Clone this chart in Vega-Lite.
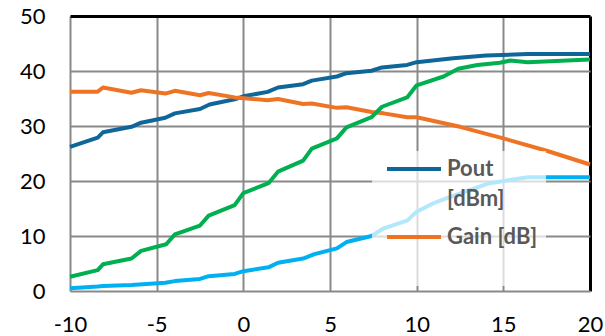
{
  "$schema": "https://vega.github.io/schema/vega-lite/v6.json",
  "width": 520,
  "height": 275,
  "autosize": {"type": "none"},
  "padding": {"left": 70, "top": 16, "right": 15, "bottom": 45},
  "background": "white",
  "config": {
    "view": {"stroke": null},
    "font": "Lato"
  },
  "data": {
    "values": [
      {"x": -10, "y": 26.2, "s": "Pout [dBm]"},
      {"x": -8.4, "y": 27.9, "s": "Pout [dBm]"},
      {"x": -8.1, "y": 28.85, "s": "Pout [dBm]"},
      {"x": -6.45, "y": 29.85, "s": "Pout [dBm]"},
      {"x": -5.9, "y": 30.6, "s": "Pout [dBm]"},
      {"x": -4.5, "y": 31.5, "s": "Pout [dBm]"},
      {"x": -3.95, "y": 32.3, "s": "Pout [dBm]"},
      {"x": -2.5, "y": 33.1, "s": "Pout [dBm]"},
      {"x": -1.95, "y": 33.9, "s": "Pout [dBm]"},
      {"x": -0.5, "y": 34.85, "s": "Pout [dBm]"},
      {"x": 0, "y": 35.4, "s": "Pout [dBm]"},
      {"x": 1.4, "y": 36.2, "s": "Pout [dBm]"},
      {"x": 2.0, "y": 37.0, "s": "Pout [dBm]"},
      {"x": 3.45, "y": 37.6, "s": "Pout [dBm]"},
      {"x": 3.95, "y": 38.25, "s": "Pout [dBm]"},
      {"x": 5.4, "y": 39.0, "s": "Pout [dBm]"},
      {"x": 5.95, "y": 39.6, "s": "Pout [dBm]"},
      {"x": 7.4, "y": 40.05, "s": "Pout [dBm]"},
      {"x": 8.0, "y": 40.65, "s": "Pout [dBm]"},
      {"x": 9.45, "y": 41.1, "s": "Pout [dBm]"},
      {"x": 10.0, "y": 41.6, "s": "Pout [dBm]"},
      {"x": 12.1, "y": 42.3, "s": "Pout [dBm]"},
      {"x": 14.0, "y": 42.8, "s": "Pout [dBm]"},
      {"x": 16.4, "y": 43.1, "s": "Pout [dBm]"},
      {"x": 20, "y": 43.1, "s": "Pout [dBm]"},

      {"x": -10, "y": 36.25, "s": "Gain [dB]"},
      {"x": -8.4, "y": 36.25, "s": "Gain [dB]"},
      {"x": -8.1, "y": 37.0, "s": "Gain [dB]"},
      {"x": -6.45, "y": 36.05, "s": "Gain [dB]"},
      {"x": -5.9, "y": 36.5, "s": "Gain [dB]"},
      {"x": -4.5, "y": 35.9, "s": "Gain [dB]"},
      {"x": -3.95, "y": 36.4, "s": "Gain [dB]"},
      {"x": -2.5, "y": 35.6, "s": "Gain [dB]"},
      {"x": -2.0, "y": 36.0, "s": "Gain [dB]"},
      {"x": -0.5, "y": 35.2, "s": "Gain [dB]"},
      {"x": 1.4, "y": 34.7, "s": "Gain [dB]"},
      {"x": 2.0, "y": 34.9, "s": "Gain [dB]"},
      {"x": 3.45, "y": 34.0, "s": "Gain [dB]"},
      {"x": 3.95, "y": 34.1, "s": "Gain [dB]"},
      {"x": 5.4, "y": 33.3, "s": "Gain [dB]"},
      {"x": 5.95, "y": 33.4, "s": "Gain [dB]"},
      {"x": 7.4, "y": 32.55, "s": "Gain [dB]"},
      {"x": 8.1, "y": 32.3, "s": "Gain [dB]"},
      {"x": 9.45, "y": 31.6, "s": "Gain [dB]"},
      {"x": 10.0, "y": 31.6, "s": "Gain [dB]"},
      {"x": 12.5, "y": 29.85, "s": "Gain [dB]"},
      {"x": 15.0, "y": 27.75, "s": "Gain [dB]"},
      {"x": 17.5, "y": 25.5, "s": "Gain [dB]"},
      {"x": 20, "y": 23.0, "s": "Gain [dB]"},

      {"x": -10, "y": 2.6, "s": "Series 3"},
      {"x": -8.4, "y": 3.8, "s": "Series 3"},
      {"x": -8.1, "y": 4.85, "s": "Series 3"},
      {"x": -6.45, "y": 5.9, "s": "Series 3"},
      {"x": -5.9, "y": 7.3, "s": "Series 3"},
      {"x": -4.45, "y": 8.5, "s": "Series 3"},
      {"x": -3.95, "y": 10.3, "s": "Series 3"},
      {"x": -2.5, "y": 11.9, "s": "Series 3"},
      {"x": -2.0, "y": 13.7, "s": "Series 3"},
      {"x": -0.5, "y": 15.6, "s": "Series 3"},
      {"x": 0, "y": 17.8, "s": "Series 3"},
      {"x": 1.45, "y": 19.6, "s": "Series 3"},
      {"x": 2.0, "y": 21.7, "s": "Series 3"},
      {"x": 3.45, "y": 23.7, "s": "Series 3"},
      {"x": 3.95, "y": 25.9, "s": "Series 3"},
      {"x": 5.4, "y": 27.75, "s": "Series 3"},
      {"x": 5.95, "y": 29.75, "s": "Series 3"},
      {"x": 7.4, "y": 31.6, "s": "Series 3"},
      {"x": 8.0, "y": 33.5, "s": "Series 3"},
      {"x": 9.45, "y": 35.2, "s": "Series 3"},
      {"x": 10.0, "y": 37.4, "s": "Series 3"},
      {"x": 11.55, "y": 39.0, "s": "Series 3"},
      {"x": 12.4, "y": 40.4, "s": "Series 3"},
      {"x": 13.5, "y": 41.1, "s": "Series 3"},
      {"x": 14.8, "y": 41.5, "s": "Series 3"},
      {"x": 15.4, "y": 41.9, "s": "Series 3"},
      {"x": 16.4, "y": 41.6, "s": "Series 3"},
      {"x": 20, "y": 42.1, "s": "Series 3"},

      {"x": -10, "y": 0.5, "s": "Series 4"},
      {"x": -8.4, "y": 0.8, "s": "Series 4"},
      {"x": -8.1, "y": 0.9, "s": "Series 4"},
      {"x": -6.45, "y": 1.1, "s": "Series 4"},
      {"x": -4.5, "y": 1.5, "s": "Series 4"},
      {"x": -3.95, "y": 1.8, "s": "Series 4"},
      {"x": -2.5, "y": 2.2, "s": "Series 4"},
      {"x": -2.0, "y": 2.7, "s": "Series 4"},
      {"x": -0.5, "y": 3.1, "s": "Series 4"},
      {"x": 0, "y": 3.6, "s": "Series 4"},
      {"x": 1.45, "y": 4.3, "s": "Series 4"},
      {"x": 2.0, "y": 5.15, "s": "Series 4"},
      {"x": 3.45, "y": 5.9, "s": "Series 4"},
      {"x": 4.1, "y": 6.7, "s": "Series 4"},
      {"x": 5.4, "y": 7.75, "s": "Series 4"},
      {"x": 5.95, "y": 8.9, "s": "Series 4"},
      {"x": 7.4, "y": 10.0, "s": "Series 4"},
      {"x": 8.1, "y": 11.4, "s": "Series 4"},
      {"x": 9.45, "y": 12.8, "s": "Series 4"},
      {"x": 10.0, "y": 14.4, "s": "Series 4"},
      {"x": 11.0, "y": 16.0, "s": "Series 4"},
      {"x": 11.7, "y": 16.85, "s": "Series 4"},
      {"x": 14.2, "y": 19.6, "s": "Series 4"},
      {"x": 16.4, "y": 20.7, "s": "Series 4"},
      {"x": 20, "y": 20.7, "s": "Series 4"}
    ]
  },
  "mark": {"type": "line", "strokeWidth": 4, "strokeJoin": "round", "clip": false},
  "encoding": {
    "x": {
      "field": "x", "type": "quantitative",
      "scale": {"domain": [-10, 20], "nice": false, "zero": false},
      "axis": {
        "title": null, "values": [-10, -5, 0, 5, 10, 15, 20],
        "domain": false, "ticks": false,
        "gridColor": {"condition": {"test": "datum.value == 20", "value": "#000000"}, "value": "#898989"},
        "gridWidth": {"condition": {"test": "datum.value == 20", "value": 3}, "value": 2},
        "gridOpacity": 1,
        "labelFont": "Lato", "labelFontSize": 22, "labelColor": "#000000",
        "labelPadding": 23, "labelFlush": false,
        "labelExpr": "replace(datum.label, '\u2212', '-')"
      }
    },
    "y": {
      "field": "y", "type": "quantitative",
      "scale": {"domain": [0, 50], "nice": false},
      "axis": {
        "title": null, "values": [0, 10, 20, 30, 40, 50],
        "domain": false, "ticks": false,
        "gridColor": {"condition": {"test": "datum.value == 50", "value": "#000000"}, "value": "#898989"},
        "gridWidth": {"condition": {"test": "datum.value == 50", "value": 3}, "value": 2},
        "gridOpacity": 1,
        "labelFont": "Lato", "labelFontSize": 22, "labelColor": "#000000",
        "labelPadding": 25
      }
    },
    "color": {
      "field": "s", "type": "nominal",
      "scale": {
        "domain": ["Pout [dBm]", "Gain [dB]", "Series 3", "Series 4"],
        "range": ["#0f6799", "#ee7424", "#00b050", "#00b0f0"]
      },
      "legend": {
        "values": ["Pout [dBm]", "Gain [dB]"],
        "orient": "none",
        "legendX": 302,
        "legendY": 135,
        "title": " ",
        "titleOrient": "bottom",
        "titleFontSize": 18,
        "titlePadding": 12,
        "padding": 8,
        "symbolOffset": 5,
        "fillColor": "rgba(255,255,255,0.7)",
        "symbolType": "stroke",
        "symbolSize": 2916,
        "symbolStrokeWidth": 4,
        "labelFont": "Lato",
        "labelFontSize": 22,
        "labelFontWeight": "bold",
        "labelColor": "#595959",
        "labelLimit": 300,
        "labelOffset": 4,
        "labelBaseline": "top",
        "rowPadding": 16,
        "labelExpr": "datum.label == 'Pout [dBm]' ? ['Pout', '[dBm]'] : datum.label",
        "encoding": {
          "labels": {"y": {"value": 0}, "lineHeight": {"value": 30}},
          "symbols": {"y": {"value": 10}}
        }
      }
    }
  }
}
